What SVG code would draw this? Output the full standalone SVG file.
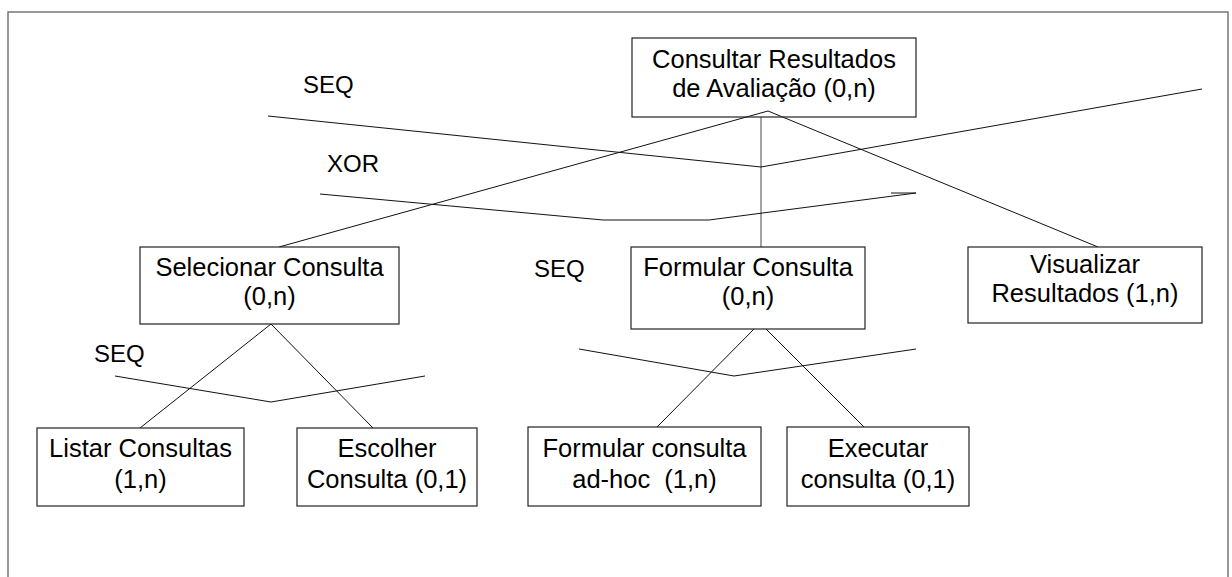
<svg xmlns="http://www.w3.org/2000/svg" width="1232" height="577" viewBox="0 0 1232 577">
<style>
.box{fill:#fff;stroke:#222;stroke-width:1.2}
.t{font-family:"Liberation Sans",Arial,sans-serif;font-size:25.5px;fill:#000;text-anchor:middle;white-space:pre}
.lbl{font-family:"Liberation Sans",Arial,sans-serif;font-size:24px;fill:#000}
.c{fill:none;stroke:#111;stroke-width:1}
.frame{fill:none;stroke:#777;stroke-width:1.5}
</style>
<rect width="1232" height="577" fill="#fff"/>
<path class="frame" d="M8,577 V12 H1228 V577"/>
<g id="connectors">
<line class="c" x1="768" y1="111" x2="279" y2="247"/>
<line class="c" x1="768" y1="111" x2="1098" y2="247"/>
<line x1="761" y1="117" x2="761" y2="247" stroke="#666" stroke-width="1.2"/>
<polyline class="c" points="268,116 761,167 1202,89"/>
<polyline class="c" points="320,194 603,220 709,220 916,193"/>
<line class="c" x1="891" y1="193" x2="916" y2="193"/>
<line class="c" x1="271" y1="324" x2="140" y2="428"/>
<line class="c" x1="271" y1="324" x2="373" y2="428"/>
<polyline class="c" points="115,376 271,402 425,376"/>
<line class="c" x1="760" y1="323" x2="657" y2="427"/>
<line class="c" x1="760" y1="323" x2="864" y2="427"/>
<polyline class="c" points="579,349 734,376 916,349"/>
</g>
<g id="labels">
<text class="lbl" x="303" y="93">SEQ</text>
<text class="lbl" x="327" y="172">XOR</text>
<text class="lbl" x="534" y="277">SEQ</text>
<text class="lbl" x="94" y="362">SEQ</text>
</g>
<g id="n-consultar">
<rect class="box" x="632" y="38" width="284" height="79" fill="none" style="fill:none"/>
<text class="t" x="774" y="68">Consultar Resultados</text>
<text class="t" x="774" y="97">de Avaliação (0,n)</text>
</g>
<g id="n-selecionar">
<rect class="box" x="140" y="247" width="259" height="77"/>
<text class="t" x="269.5" y="276">Selecionar Consulta</text>
<text class="t" x="269.5" y="305">(0,n)</text>
</g>
<g id="n-formular">
<rect class="box" x="631" y="247" width="234" height="82"/>
<text class="t" x="748" y="276">Formular Consulta</text>
<text class="t" x="748" y="305">(0,n)</text>
</g>
<g id="n-visualizar">
<rect class="box" x="968" y="247" width="234" height="76"/>
<text class="t" x="1085" y="273">Visualizar</text>
<text class="t" x="1085" y="302">Resultados (1,n)</text>
</g>
<g id="n-listar">
<rect class="box" x="37" y="428" width="207" height="78"/>
<text class="t" x="140.5" y="457">Listar Consultas</text>
<text class="t" x="140.5" y="488">(1,n)</text>
</g>
<g id="n-escolher">
<rect class="box" x="297" y="428" width="180" height="78"/>
<text class="t" x="387" y="457">Escolher</text>
<text class="t" x="387" y="488">Consulta (0,1)</text>
</g>
<g id="n-formular-adhoc">
<rect class="box" x="528" y="427" width="233" height="79"/>
<text class="t" x="644.5" y="457">Formular consulta</text>
<text class="t" x="644.5" y="488">ad-hoc  (1,n)</text>
</g>
<g id="n-executar">
<rect class="box" x="787" y="427" width="182" height="79"/>
<text class="t" x="878" y="457">Executar</text>
<text class="t" x="878" y="488">consulta (0,1)</text>
</g>
</svg>
